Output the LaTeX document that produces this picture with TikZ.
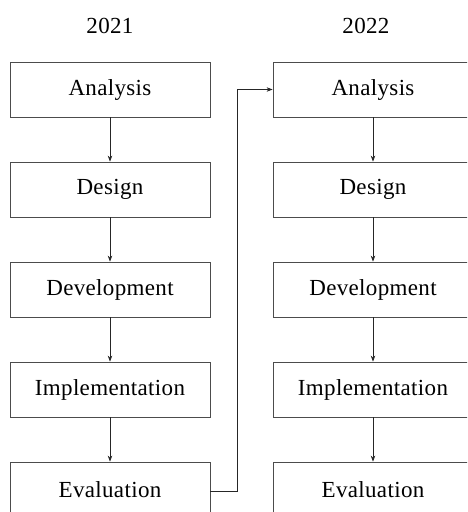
\documentclass[tikz,border=0pt]{standalone}
\usepackage{fontspec}
\setmainfont[LetterSpace=1.5]{Liberation Serif}
\usetikzlibrary{arrows.meta}
\begin{document}
\begin{tikzpicture}[x=1pt,y=-1pt,
  stage/.style={draw=black!70,line width=0.8pt,minimum width=200pt,minimum height=55pt,inner sep=0pt,font=\fontsize{23}{26}\selectfont},
  yr/.style={font=\fontsize{23}{26}\selectfont},
  conn/.style={draw=black!85,line width=0.7pt,-{Stealth[length=6pt,width=4.5pt]}}]
\useasboundingbox (0,0) rectangle (467,512);
\clip (0,0) rectangle (467,512);
\node[yr] (y1) at (110,26) {2021};
\node[yr] (y2) at (366,26) {2022};
\foreach \c/\x in {a/110,b/373}{
  \node[stage] (\c1) at (\x,89.5) {Analysis};
  \node[stage] (\c2) at (\x,189.5) {Design};
  \node[stage] (\c3) at (\x,289.5) {Development};
  \node[stage] (\c4) at (\x,389.5) {Implementation};
  \node[stage] (\c5) at (\x,489.5) {Evaluation};
  \draw[conn] (\c1) -- (\c2);
  \draw[conn] (\c2) -- (\c3);
  \draw[conn] (\c3) -- (\c4);
  \draw[conn] (\c4) -- (\c5);
}
\coordinate (fb) at (237,491);
\draw[conn] (a5.east |- fb) -- (fb) |- (b1.west);
\end{tikzpicture}
\end{document}
